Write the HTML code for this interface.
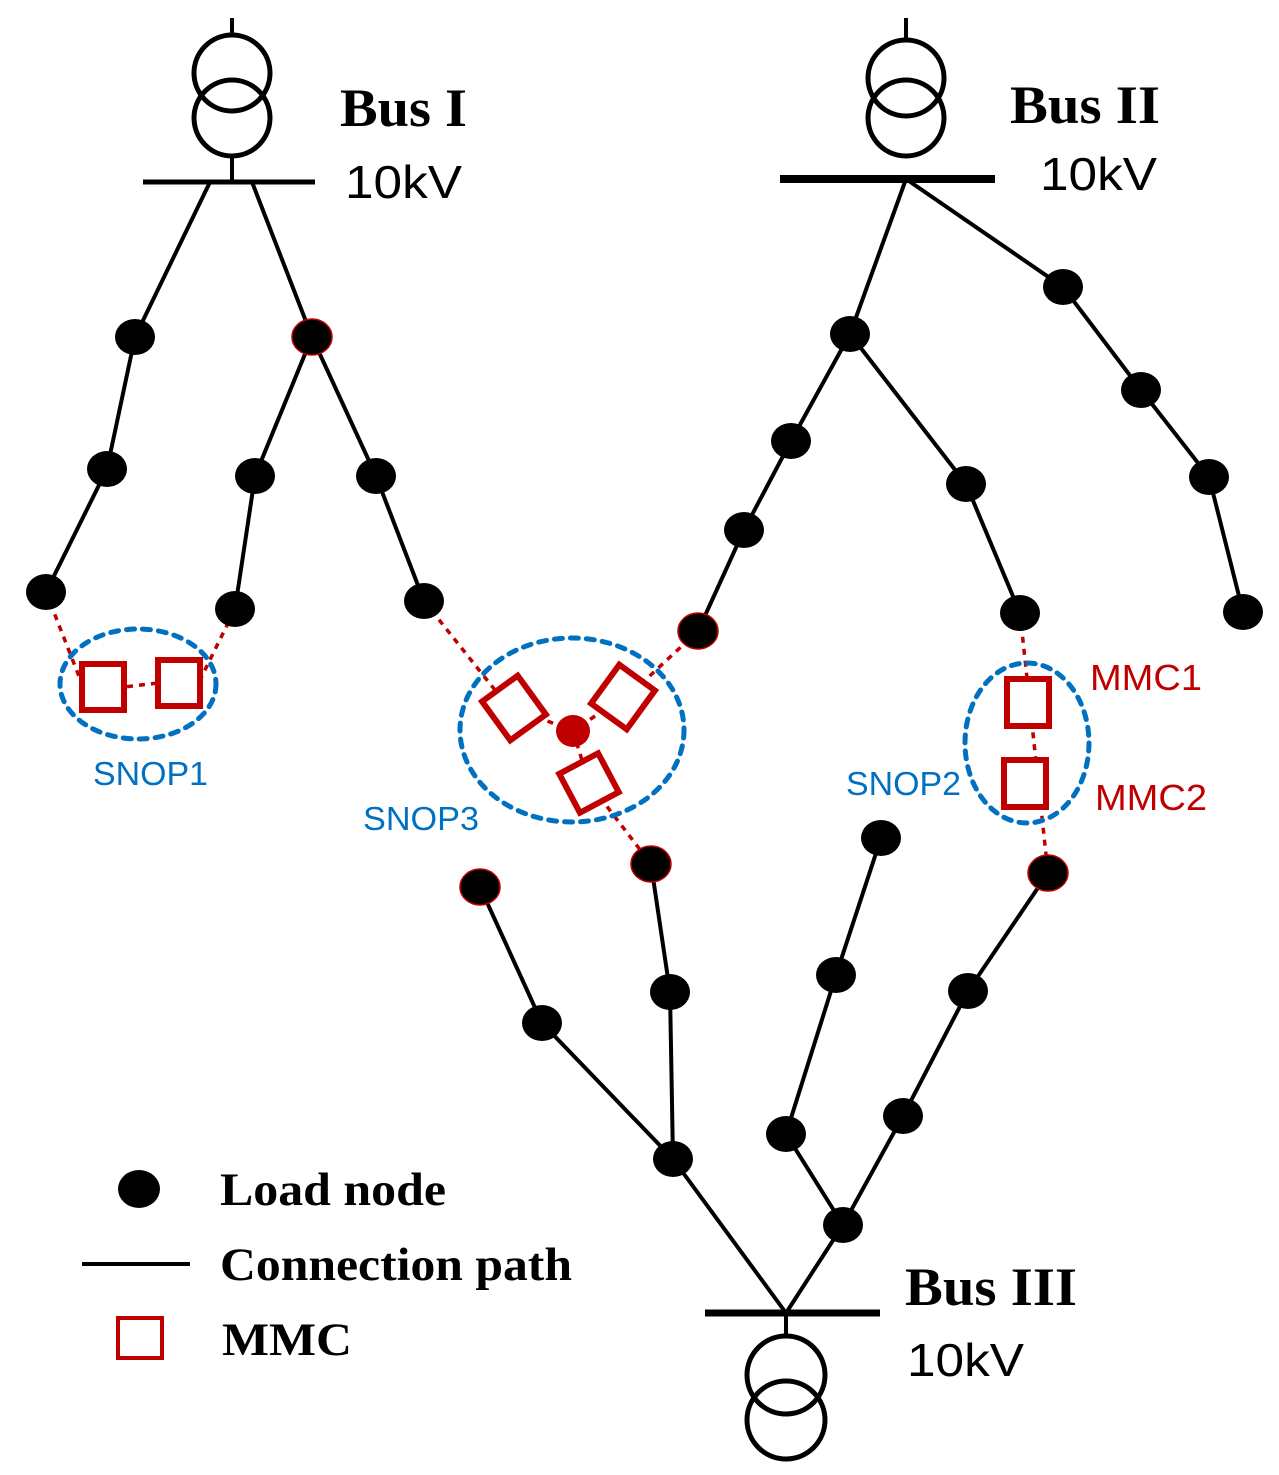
<!DOCTYPE html>
<html><head><style>body{margin:0;background:#fff}svg{display:block}</style></head><body>
<svg width="1279" height="1475" viewBox="0 0 1279 1475" xmlns="http://www.w3.org/2000/svg">
<g fill="none" stroke="#000" stroke-width="4">
<line x1="232" y1="18" x2="232" y2="36"/>
<g stroke-width="5">
<circle cx="232" cy="73" r="38"/><circle cx="232" cy="118" r="38"/>
<circle cx="906" cy="78" r="38"/><circle cx="906" cy="118" r="38"/>
<circle cx="786" cy="1375" r="39"/><circle cx="786" cy="1420" r="39"/>
</g>
<line x1="232" y1="156" x2="232" y2="182"/>
<line x1="143" y1="182" x2="315" y2="182" stroke-width="5"/>
<line x1="906" y1="18" x2="906" y2="40"/>
<line x1="780" y1="179" x2="995" y2="179" stroke-width="8"/>
<line x1="705" y1="1313" x2="880" y2="1313" stroke-width="7"/>
<line x1="786" y1="1313" x2="786" y2="1337"/>
<polyline points="210,182 135,337 107,469 46,592"/>
<polyline points="252,182 312,337 255,476 235,609"/>
<polyline points="312,337 376,476 424,601"/>
<polyline points="906,179 850,334 791,441 744,530 698,631"/>
<polyline points="850,334 966,484 1020,613"/>
<polyline points="906,179 1063,287 1141,390 1209,477 1243,612"/>
<polyline points="786,1313 673,1159 542,1023 480,887"/>
<polyline points="673,1159 670,992 651,864"/>
<polyline points="786,1313 843,1225 786,1134 836,975 881,838"/>
<polyline points="843,1225 903,1116 968,991 1048,873"/>
<line x1="82" y1="1264" x2="190" y2="1264"/>
</g>
<g fill="none" stroke="#c00000" stroke-width="3.5" stroke-dasharray="6,6">
<polyline points="46,592 82,684 124,687 158,683 200,680 235,609"/>
<line x1="424" y1="601" x2="495" y2="690"/>
<line x1="698" y1="631" x2="640" y2="685"/>
<polyline points="514,708 573,731 623,697"/>
<polyline points="573,731 589,783 651,864"/>
<line x1="1020" y1="613" x2="1048" y2="873"/>
</g>
<g fill="#000">
<g>
<ellipse cx="135" cy="337" rx="20" ry="18"/><ellipse cx="107" cy="469" rx="20" ry="18"/><ellipse cx="46" cy="592" rx="20" ry="18"/>
<ellipse cx="255" cy="476" rx="20" ry="18"/><ellipse cx="235" cy="609" rx="20" ry="18"/>
<ellipse cx="376" cy="476" rx="20" ry="18"/><ellipse cx="424" cy="601" rx="20" ry="18"/>
<ellipse cx="850" cy="334" rx="20" ry="18"/><ellipse cx="791" cy="441" rx="20" ry="18"/><ellipse cx="744" cy="530" rx="20" ry="18"/>
<ellipse cx="966" cy="484" rx="20" ry="18"/><ellipse cx="1020" cy="613" rx="20" ry="18"/>
<ellipse cx="1063" cy="287" rx="20" ry="18"/><ellipse cx="1141" cy="390" rx="20" ry="18"/><ellipse cx="1209" cy="477" rx="20" ry="18"/><ellipse cx="1243" cy="612" rx="20" ry="18"/>
<ellipse cx="673" cy="1159" rx="20" ry="18"/><ellipse cx="542" cy="1023" rx="20" ry="18"/><ellipse cx="670" cy="992" rx="20" ry="18"/>
<ellipse cx="843" cy="1225" rx="20" ry="18"/><ellipse cx="786" cy="1134" rx="20" ry="18"/><ellipse cx="836" cy="975" rx="20" ry="18"/><ellipse cx="881" cy="838" rx="20" ry="18"/>
<ellipse cx="903" cy="1116" rx="20" ry="18"/><ellipse cx="968" cy="991" rx="20" ry="18"/>
<ellipse cx="139" cy="1189" rx="21" ry="19"/>
</g>
<g stroke="#c00000" stroke-width="1.5">
<ellipse cx="312" cy="337" rx="20" ry="18"/><ellipse cx="698" cy="631" rx="20" ry="18"/><ellipse cx="480" cy="887" rx="20" ry="18"/>
<ellipse cx="651" cy="864" rx="20" ry="18"/><ellipse cx="1048" cy="873" rx="20" ry="18"/>
</g>
</g>
<g fill="none" stroke="#0070c0" stroke-width="5" stroke-dasharray="8,8" stroke-linecap="round">
<ellipse cx="138" cy="684" rx="78" ry="55"/>
<ellipse cx="572" cy="730" rx="112" ry="92"/>
<ellipse cx="1027" cy="743" rx="62" ry="80"/>
</g>
<g fill="#fff" stroke="#c00000" stroke-width="6">
<rect x="82" y="664" width="42" height="46"/>
<rect x="158" y="660" width="42" height="46"/>
<rect x="-22" y="-24" width="44" height="48" transform="translate(514,708) rotate(-36)"/>
<rect x="-22" y="-24" width="44" height="48" transform="translate(623,697) rotate(36)"/>
<rect x="-22" y="-22" width="44" height="44" transform="translate(589,783) rotate(-28)"/>
<rect x="1007" y="679" width="42" height="47"/>
<rect x="1004" y="760" width="42" height="47"/>
<rect x="118" y="1318" width="44" height="40" stroke-width="4"/>
</g>
<ellipse cx="573" cy="731" rx="17" ry="16" fill="#c00000"/>
<g font-family="Liberation Serif, serif" font-weight="bold" font-size="54" fill="#000" lengthAdjust="spacingAndGlyphs">
<text x="340" y="126" textLength="127" lengthAdjust="spacingAndGlyphs">Bus I</text>
<text x="1010" y="123" textLength="150" lengthAdjust="spacingAndGlyphs">Bus II</text>
<text x="905" y="1305" textLength="172" lengthAdjust="spacingAndGlyphs">Bus III</text>
<text x="220" y="1205" font-size="47" textLength="226" lengthAdjust="spacingAndGlyphs">Load node</text>
<text x="220" y="1280" font-size="47" textLength="352" lengthAdjust="spacingAndGlyphs">Connection path</text>
<text x="222" y="1355" font-size="47" textLength="130" lengthAdjust="spacingAndGlyphs">MMC</text>
</g>
<g font-family="Liberation Sans, sans-serif" font-size="46" fill="#000">
<text x="345" y="198" textLength="117" lengthAdjust="spacingAndGlyphs">10kV</text>
<text x="1040" y="190" textLength="117" lengthAdjust="spacingAndGlyphs">10kV</text>
<text x="907" y="1376" textLength="117" lengthAdjust="spacingAndGlyphs">10kV</text>
</g>
<g font-family="Liberation Sans, sans-serif" font-size="33">
<text x="93" y="785" fill="#0070c0" textLength="115" lengthAdjust="spacingAndGlyphs">SNOP1</text>
<text x="363" y="830" fill="#0070c0" textLength="116" lengthAdjust="spacingAndGlyphs">SNOP3</text>
<text x="846" y="795" fill="#0070c0" textLength="115" lengthAdjust="spacingAndGlyphs">SNOP2</text>
<text x="1090" y="690" fill="#c00000" font-size="36" textLength="112" lengthAdjust="spacingAndGlyphs">MMC1</text>
<text x="1095" y="810" fill="#c00000" font-size="36" textLength="112" lengthAdjust="spacingAndGlyphs">MMC2</text>
</g>
</svg>
</body></html>
